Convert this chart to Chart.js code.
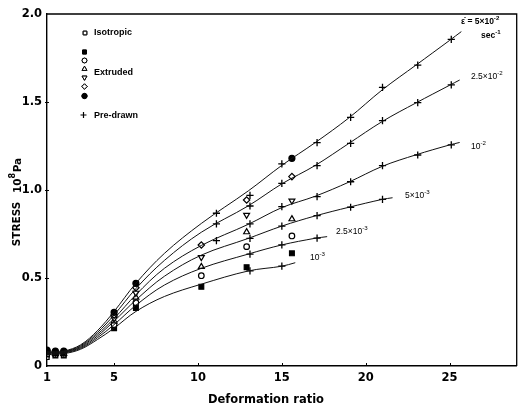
<!DOCTYPE html>
<html>
<head>
<meta charset="utf-8">
<title>Stress vs deformation ratio</title>
<script src="https://cdn.jsdelivr.net/npm/chart.js@4.4.1/dist/chart.umd.min.js"></script>
<style>
    html, body { margin: 0; padding: 0; background: #fff; }
    canvas { display: block; }
</style>
</head>
<body>
<canvas id="stressChart" width="522" height="413"></canvas>
<script>
// #region data
const xTicks = [1, 5, 10, 15, 20, 25];
const yTicks = [0, 0.5, 1.0, 1.5, 2.0];

// strain rates, top curve to bottom curve
const rates = ['5e-2', '2.5e-2', '1e-2', '5e-3', '2.5e-3', '1e-3'];

// fitted curves
const curveX = [
    [1, 2, 3, 4, 5, 6.3, 8, 10.2, 13, 15, 17, 19, 21, 23, 25, 25.7],
    [1, 2, 3, 4, 5, 6.3, 8, 10.2, 13, 15, 17, 19, 21, 23, 25, 25.6],
    [1, 2, 3, 4, 5, 6.3, 8, 10.2, 13, 15, 17, 19, 21, 23, 25, 25.6],
    [1, 2, 3, 4, 5, 6.3, 8, 10.2, 13, 15, 17, 19, 21, 21.6],
    [1, 2, 3, 4, 5, 6.3, 8, 10.2, 13, 15, 17, 17.7],
    [1, 2, 3, 4, 5, 6.3, 8, 10.2, 13, 15, 15.8]
];
const curveY = [
    [0.08, 0.085, 0.12, 0.2, 0.31, 0.47, 0.64, 0.81, 0.995, 1.14, 1.27, 1.41, 1.57, 1.71, 1.85, 1.9],
    [0.078, 0.082, 0.115, 0.19, 0.29, 0.44, 0.6, 0.76, 0.91, 1.035, 1.14, 1.265, 1.39, 1.495, 1.595, 1.625],
    [0.075, 0.08, 0.11, 0.18, 0.27, 0.405, 0.555, 0.685, 0.805, 0.9, 0.965, 1.045, 1.135, 1.2, 1.256, 1.27],
    [0.072, 0.077, 0.105, 0.17, 0.255, 0.375, 0.51, 0.63, 0.725, 0.795, 0.853, 0.902, 0.947, 0.956],
    [0.068, 0.074, 0.1, 0.16, 0.235, 0.345, 0.46, 0.555, 0.636, 0.688, 0.726, 0.735],
    [0.065, 0.07, 0.095, 0.15, 0.215, 0.31, 0.395, 0.465, 0.54, 0.567, 0.587]
];

// isotropic sample
const isotropicX = [1];
const isotropicY = [0.05];

// extruded samples, same order as rates
const extrudedX = [1, 1.5, 2, 5, 6.3, 10.2, 12.9, 15.6];
const extrudedY = [
    [0.09, 0.085, 0.085, 0.305, 0.47, null, null, 1.18],
    [0.085, 0.08, 0.08, 0.29, 0.445, 0.6875, 0.943, 1.076],
    [0.08, 0.075, 0.075, 0.27, 0.415, 0.618, 0.858, 0.939],
    [0.075, 0.07, 0.07, 0.255, 0.39, 0.564, 0.761, 0.835],
    [0.07, 0.065, 0.065, 0.235, 0.36, 0.513, 0.678, 0.739],
    [0.065, 0.06, 0.06, 0.215, 0.33, 0.45, 0.561, 0.64]
];

// pre-drawn samples, same order as rates
const predrawnX = [11.1, 13.1, 15, 17.1, 19.1, 21, 23.1, 25.1];
const predrawnY = [
    [0.868, 0.97, 1.148, 1.269, 1.413, 1.583, 1.71, 1.856],
    [0.807, 0.909, 1.038, 1.138, 1.265, 1.394, 1.496, 1.597],
    [0.712, 0.807, 0.905, 0.962, 1.047, 1.138, 1.199, 1.256],
    [null, 0.725, 0.795, 0.854, 0.902, 0.947, null, null],
    [null, 0.636, 0.688, 0.726, null, null, null, null],
    [null, 0.541, 0.567, null, null, null, null, null]
];
// #endregion data


const
    canvas = document.getElementById('stressChart'),
    ctx = canvas.getContext('2d');

const
    FONT = '"DejaVu Sans", sans-serif',
    SMALL = '"Liberation Sans", Arial, sans-serif';

// marker look per extruded series (same order as rates)
const extrudedStyle = [
    { pointStyle: 'circle', fill: '#000', radius: 3, rotation: 0 },
    { pointStyle: 'rectRot', fill: '#fff', radius: 3.2, rotation: 0 },
    { pointStyle: 'triangle', fill: '#fff', radius: 3.4, rotation: 180 },
    { pointStyle: 'triangle', fill: '#fff', radius: 3.4, rotation: 0 },
    { pointStyle: 'circle', fill: '#fff', radius: 2.8, rotation: 0 },
    { pointStyle: 'rect', fill: '#000', radius: 3.4, rotation: 0 }
];

function toPoints(xs, ys) {
    const pts = [];
    xs.forEach((x, i) => {
        if (ys[i] !== null) pts.push({ x: x, y: ys[i] });
    });
    return pts;
}

function buildDatasets() {
    const sets = [];

    curveX.forEach((xs, i) => {
        sets.push({
            label: 'curve ' + rates[i],
            data: toPoints(xs, curveY[i]),
            showLine: true,
            borderColor: '#111',
            borderWidth: 1,
            pointRadius: 0,
            tension: 0.35,
            fill: false
        });
    });

    predrawnY.forEach((ys, i) => {
        sets.push({
            label: 'pre-drawn ' + rates[i],
            data: toPoints(predrawnX, ys),
            pointStyle: 'cross',
            pointRadius: 3.6,
            pointBorderWidth: 1.3,
            borderColor: '#000',
            backgroundColor: '#000'
        });
    });

    extrudedY.forEach((ys, i) => {
        const st = extrudedStyle[i];
        sets.push({
            label: 'extruded ' + rates[i],
            data: toPoints(extrudedX, ys),
            pointStyle: st.pointStyle,
            pointRotation: st.rotation,
            pointRadius: st.radius,
            pointBorderWidth: 1.2,
            borderColor: '#000',
            backgroundColor: st.fill
        });
    });

    sets.push({
        label: 'isotropic',
        data: toPoints(isotropicX, isotropicY),
        pointStyle: 'rect',
        pointRadius: 3,
        pointBorderWidth: 1.2,
        borderColor: '#000',
        backgroundColor: '#fff'
    });

    return sets;
}


// text with superscripts: parts = [[text, isSup], ...]
function drawRich(c, parts, x, y, size, weight) {
    let cx = x;
    parts.forEach(([txt, sup]) => {
        const s = sup ? size * 0.72 : size;
        c.font = `${weight} ${s}px ${SMALL}`;
        c.fillText(txt, cx, sup ? y - size * 0.42 : y);
        cx += c.measureText(txt).width;
    });
}

function marker(c, style, x, y, r, fill, rot) {
    Chart.helpers.drawPoint(c, {
        pointStyle: style, radius: r, rotation: rot || 0, borderWidth: 1.1
    }, x, y);
    c.fillStyle = fill;
    c.fill();
    c.stroke();
}

const decorations = {
    id: 'decorations',
    afterDraw(chart) {
        const c = chart.ctx,
            area = chart.chartArea,
            sx = chart.scales.x,
            sy = chart.scales.y;

        c.save();
        c.strokeStyle = '#000';
        c.fillStyle = '#000';

        // box top and right
        c.lineWidth = 1.3;
        c.beginPath();
        c.moveTo(area.left, area.top);
        c.lineTo(area.right, area.top);
        c.lineTo(area.right, area.bottom);
        c.stroke();

        // small ticks
        c.lineWidth = 1;
        c.beginPath();
        xTicks.slice(1).forEach(v => {
            const px = Math.round(sx.getPixelForValue(v)) + 0.5;
            c.moveTo(px, area.bottom);
            c.lineTo(px, area.bottom - 3);
        });
        yTicks.slice(1, -1).forEach(v => {
            const py = Math.round(sy.getPixelForValue(v)) + 0.5;
            c.moveTo(area.left - 2, py);
            c.lineTo(area.left + 2, py);
        });
        c.stroke();

        // legend block
        c.strokeStyle = '#000';
        marker(c, 'rect', 85, 33, 2.6, '#fff');
        marker(c, 'rect', 84.5, 52, 2.8, '#000');
        marker(c, 'circle', 84.5, 60.5, 2.4, '#fff');
        marker(c, 'triangle', 84.5, 69, 2.8, '#fff');
        marker(c, 'triangle', 84.5, 77.5, 2.8, '#fff', 180);
        marker(c, 'rectRot', 84.5, 86.5, 2.7, '#fff');
        marker(c, 'circle', 84.5, 96, 2.6, '#000');
        c.lineWidth = 1.2;
        c.beginPath();
        c.moveTo(80.5, 115); c.lineTo(86.5, 115);
        c.moveTo(83.5, 112); c.lineTo(83.5, 118);
        c.stroke();

        c.fillStyle = '#000';
        c.textBaseline = 'middle';
        c.textAlign = 'left';
        c.font = `bold 9px ${SMALL}`;
        c.fillText('Isotropic', 94, 33);
        c.fillText('Extruded', 94, 73);
        c.fillText('Pre-drawn', 94, 115.5);

        // rate labels next to curves
        c.textBaseline = 'alphabetic';
        drawRich(c, [['ε̇ = 5×10', false], ['-2', true]], 461, 24, 8.5, 'bold');
        drawRich(c, [['sec', false], ['-1', true]], 481, 38, 8.5, 'bold');
        drawRich(c, [['2.5×10', false], ['-2', true]], 471, 79, 8.5, 'normal');
        drawRich(c, [['10', false], ['-2', true]], 471, 149, 8.5, 'normal');
        drawRich(c, [['5×10', false], ['-3', true]], 405, 198, 8.5, 'normal');
        drawRich(c, [['2.5×10', false], ['-3', true]], 336, 234, 8.5, 'normal');
        drawRich(c, [['10', false], ['-3', true]], 310, 260, 8.5, 'normal');

        // axis titles
        c.font = `bold 11.5px ${FONT}`;
        c.textAlign = 'center';
        c.textBaseline = 'middle';
        c.fillText('Deformation ratio', 266, 400);

        c.translate(17, 0);
        c.rotate(-Math.PI / 2);
        c.font = `bold 10.5px ${FONT}`;
        c.fillText('STRESS', -224, 0);
        c.textAlign = 'left';
        c.fillText('10', -193, 1);
        const w10 = c.measureText('10').width;
        c.font = `bold 8px ${FONT}`;
        c.fillText('8', -193 + w10, -4);
        const w8 = c.measureText('8').width;
        c.font = `bold 10.5px ${FONT}`;
        c.fillText('Pa', -193 + w10 + w8 + 0.5, 1);

        c.restore();
    }
};

const tickFont = { family: FONT, size: 11.5, weight: 'bold' };

function render() {
    new Chart(ctx, {
        type: 'scatter',
        data: { datasets: buildDatasets() },
        options: {
            responsive: false,
            animation: false,
            events: [],
            layout: { padding: { top: 14, right: 1, left: 0, bottom: 0 } },
            plugins: {
                legend: { display: false },
                tooltip: { enabled: false }
            },
            scales: {
                x: {
                    type: 'linear',
                    min: 1,
                    max: 29,
                    afterBuildTicks: s => { s.ticks = xTicks.map(v => ({ value: v })); },
                    afterFit: s => { s.height = 47; },
                    grid: { display: false, drawTicks: false },
                    border: { color: '#000', width: 1.4 },
                    ticks: {
                        color: '#000',
                        font: tickFont,
                        padding: 5,
                        maxRotation: 0,
                        autoSkip: false
                    }
                },
                y: {
                    type: 'linear',
                    min: 0,
                    max: 2,
                    afterBuildTicks: s => { s.ticks = yTicks.map(v => ({ value: v })); },
                    afterFit: s => { s.width = 47; },
                    grid: { display: false, drawTicks: false },
                    border: { color: '#000', width: 1.4 },
                    ticks: {
                        color: '#000',
                        font: tickFont,
                        padding: 5,
                        autoSkip: false,
                        callback: v => (v === 0 ? '0' : v.toFixed(1))
                    }
                }
            }
        },
        plugins: [decorations]
    });
}

render();
</script>
</body>
</html>
